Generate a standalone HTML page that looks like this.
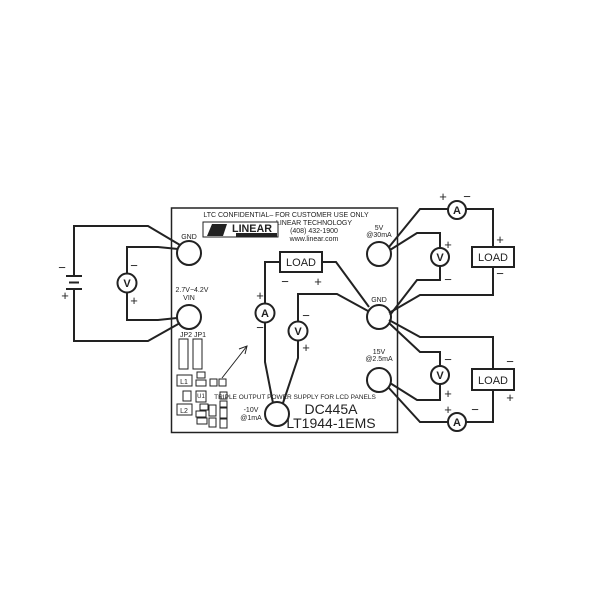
<!DOCTYPE html>
<html><head><meta charset="utf-8"><style>
html,body{margin:0;padding:0;background:#fff;}
svg{display:block;}
text{font-family:"Liberation Sans",sans-serif;fill:#222;}
</style></head><body>
<svg width="600" height="600" viewBox="0 0 600 600">
<g fill="none" stroke="#222" stroke-width="2">
<rect x="171.5" y="208" width="226" height="224.5" stroke-width="1.5"/>
<circle cx="189" cy="253" r="12"/>
<circle cx="189" cy="317" r="12"/>
<circle cx="277" cy="414" r="12"/>
<circle cx="379" cy="254" r="12"/>
<circle cx="379" cy="317" r="12"/>
<circle cx="379" cy="380" r="12"/>
<polyline points="180,245 148,226 74,226 74,276"/>
<polyline points="74,289 74,341 148,341 180,323"/>
<line x1="66" y1="276" x2="82" y2="276"/>
<line x1="69" y1="282.5" x2="79" y2="282.5"/>
<line x1="66" y1="289" x2="82" y2="289"/>
<circle cx="127" cy="283" r="9.5"/>
<polyline points="178,249 158,247 127,247 127,273.5"/>
<polyline points="127,292.5 127,320 158,320 177,318"/>
<circle cx="265" cy="313" r="9.5"/>
<rect x="280" y="252" width="42" height="20"/>
<polyline points="265,303.5 265,262 280,262"/>
<polyline points="322,262 336,262 369,307"/>
<polyline points="265,322.5 265,362 273,403"/>
<circle cx="298" cy="331" r="9.5"/>
<polyline points="298,321.5 298,294 337,294 368,311"/>
<polyline points="298,340.5 298,358 283,403"/>
<line x1="222" y1="378" x2="247" y2="346" stroke-width="1"/>
<polyline points="239,349 247,346 245,354" stroke-width="1"/>
<circle cx="457" cy="210" r="9"/>
<polyline points="389,247 420,209 448,209"/>
<polyline points="466,209 493,209 493,247"/>
<rect x="472" y="247" width="42" height="20"/>
<polyline points="493,267 493,295 420,295 389,313"/>
<circle cx="440" cy="257" r="9"/>
<polyline points="390,250 417,233 440,233 440,248"/>
<polyline points="440,266 440,280 417,280 390,315"/>
<polyline points="389,320 420,337 493,337 493,369"/>
<rect x="472" y="369" width="42" height="21"/>
<polyline points="493,390 493,422 466,422"/>
<circle cx="457" cy="422" r="9"/>
<polyline points="448,422 420,422 388,387"/>
<circle cx="440" cy="375" r="9"/>
<polyline points="440,366 440,352 420,352 389,323"/>
<polyline points="440,384 440,400 417,400 390,383"/>
<g stroke-width="1">
<rect x="179" y="339" width="9" height="30"/>
<rect x="193" y="339" width="9" height="30"/>
<rect x="177" y="375" width="15" height="11"/>
<rect x="177" y="404" width="15" height="11"/>
<rect x="183" y="391" width="8" height="10"/>
<rect x="197" y="372" width="8" height="6"/>
<rect x="196" y="380" width="10" height="6"/>
<rect x="196" y="391" width="10" height="11"/>
<rect x="200" y="404" width="8" height="6"/>
<rect x="196" y="411" width="10" height="6"/>
<rect x="197" y="418" width="10" height="6"/>
<rect x="210" y="379" width="7" height="7"/>
<rect x="219" y="379" width="7" height="7"/>
<rect x="220" y="392" width="7" height="7"/>
<rect x="220" y="401" width="7" height="7"/>
<rect x="209" y="405" width="7" height="11"/>
<rect x="220" y="407" width="7" height="11"/>
<rect x="209" y="418" width="7" height="9"/>
<rect x="220" y="419" width="7" height="9"/>
</g>
</g>
<g font-size="11" font-weight="bold" text-anchor="middle">
<text x="127" y="287">V</text>
<text x="265" y="317">A</text>
<text x="298" y="335">V</text>
<text x="457" y="214">A</text>
<text x="440" y="261">V</text>
<text x="440" y="379">V</text>
<text x="457" y="426">A</text>
</g>
<g font-size="13" text-anchor="middle">
<text x="62" y="272">−</text><text x="65" y="300">+</text>
<text x="134" y="270">−</text><text x="134" y="305">+</text>
<text x="260" y="300">+</text><text x="260" y="332">−</text>
<text x="285" y="286">−</text><text x="318" y="286">+</text>
<text x="306" y="320">−</text><text x="306" y="352">+</text>
<text x="443" y="201">+</text><text x="467" y="201">−</text>
<text x="448" y="249">+</text><text x="448" y="284">−</text>
<text x="500" y="244">+</text><text x="500" y="278">−</text>
<text x="448" y="364">−</text><text x="448" y="398">+</text>
<text x="510" y="366">−</text><text x="510" y="402">+</text>
<text x="448" y="414">+</text><text x="475" y="414">−</text>
</g>
<g font-size="11" text-anchor="middle">
<text x="301" y="266">LOAD</text>
<text x="493" y="261">LOAD</text>
<text x="493" y="384">LOAD</text>
</g>
<g font-size="7" text-anchor="middle">
<text x="286" y="217">LTC CONFIDENTIAL– FOR CUSTOMER USE ONLY</text>
<text x="314" y="225">LINEAR TECHNOLOGY</text>
<text x="314" y="233">(408) 432-1900</text>
<text x="314" y="241">www.linear.com</text>
<text x="189" y="239">GND</text>
<text x="192" y="292">2.7V−4.2V</text>
<text x="189" y="300">VIN</text>
<text x="379" y="230">5V</text>
<text x="379" y="237">@30mA</text>
<text x="379" y="302">GND</text>
<text x="379" y="354">15V</text>
<text x="379" y="361">@2.5mA</text>
<text x="295" y="399" font-size="6.5">TRIPLE OUTPUT POWER SUPPLY FOR LCD PANELS</text>
<text x="251" y="412">-10V</text>
<text x="251" y="420">@1mA</text>
<text x="186" y="337">JP2</text><text x="200" y="337">JP1</text>
<text x="184" y="384" font-size="7">L1</text>
<text x="184" y="413" font-size="7">L2</text>
<text x="201" y="398" font-size="6">U1</text>
</g>
<g font-size="14" text-anchor="middle">
<text x="331" y="414">DC445A</text>
<text x="331" y="428">LT1944-1EMS</text>
</g>
<rect x="203" y="222" width="75" height="15" fill="#fff" stroke="#222" stroke-width="1"/>
<polygon points="207,236 212,224 227,224 223,236" fill="#222"/>
<text x="252" y="232" font-size="11" font-weight="bold" text-anchor="middle" textLength="40" lengthAdjust="spacingAndGlyphs">LINEAR</text>
<rect x="236" y="233" width="41" height="4" fill="#222"/>
</svg>
</body></html>
